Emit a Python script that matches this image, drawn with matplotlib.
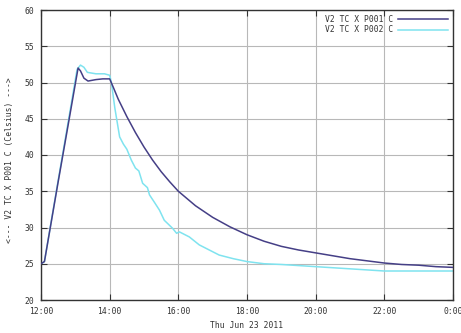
import matplotlib
matplotlib.use("Agg")
import matplotlib.pyplot as plt

# hours since 12:00 on Thu Jun 23 2011
t_p001 = [0.00, 0.10, 0.50, 0.80, 1.08, 1.15, 1.25, 1.37, 1.60, 1.80, 2.00, 2.10,
          2.25, 2.50, 2.75, 3.00, 3.25, 3.50, 3.75, 4.00, 4.25, 4.50, 5.00, 5.50,
          6.00, 6.50, 7.00, 7.50, 8.00, 8.50, 9.00, 9.50, 10.00, 10.50, 11.00,
          11.50, 12.00]
v_p001 = [25.0, 25.3, 36.3, 44.4, 52.0, 51.6, 50.6, 50.2, 50.4, 50.5, 50.5, 49.4,
          47.7, 45.3, 43.1, 41.1, 39.3, 37.7, 36.3, 35.0, 34.0, 33.0, 31.4, 30.1,
          29.0, 28.1, 27.4, 26.9, 26.5, 26.1, 25.7, 25.4, 25.1, 24.9, 24.8,
          24.6, 24.5]

t_p002 = [0.00, 0.10, 0.50, 0.80, 1.05, 1.15, 1.25, 1.35, 1.60, 1.85, 2.00, 2.05,
          2.15, 2.29, 2.40, 2.50, 2.63, 2.75, 2.85, 2.96, 3.10, 3.16, 3.30, 3.45,
          3.59, 3.83, 3.95, 4.03, 4.32, 4.61, 5.19, 5.60, 6.00, 6.50, 7.00, 8.00,
          9.00, 10.00, 11.00, 12.00]
v_p002 = [25.0, 25.3, 36.5, 44.8, 51.8, 52.4, 52.1, 51.4, 51.2, 51.2, 51.0, 50.0,
          46.5, 42.5, 41.5, 40.8, 39.3, 38.2, 37.8, 36.1, 35.5, 34.5, 33.5, 32.4,
          31.0, 29.9, 29.2, 29.4, 28.7, 27.6, 26.2, 25.7, 25.3, 25.0, 24.9, 24.6,
          24.3, 24.0, 24.0, 24.0]

x_ticks = [0, 2, 4, 6, 8, 10, 12]
x_labels = ["12:00", "14:00", "16:00", "18:00", "20:00", "22:00", "0:00"]
y_ticks = [20, 25, 30, 35, 40, 45, 50, 55, 60]

fs = 5.8
plt.rcParams['font.family'] = ['DejaVu Sans Mono']

fig = plt.figure(figsize=(4.61, 3.33), dpi=100)
ax = fig.add_axes([41/461, 1-300/333, 412/461, 290/333])

ax.plot(t_p001, v_p001, color="#453f86", lw=1.1, label="V2 TC X P001 C", zorder=3)
ax.plot(t_p002, v_p002, color="#7fe3ef", lw=1.1, label="V2 TC X P002 C", zorder=2)

ax.set_xlim(0, 12)
ax.set_ylim(20, 60)
ax.set_xticks(x_ticks)
ax.set_xticklabels(x_labels)
ax.set_yticks(y_ticks)
ax.tick_params(direction="in", top=True, right=True, labelsize=fs, length=4,
               width=0.8, colors="#333333", pad=5)
ax.grid(True, color="#b8b8b8", lw=0.8)
ax.set_axisbelow(True)
for s in ax.spines.values():
    s.set_color("#333333")
    s.set_linewidth(1.0)

ax.set_xlabel("Thu Jun 23 2011", fontsize=fs, color="#333333", labelpad=4)
fig.text(10/461, 1-160/333, "<--- V2 TC X P001 C (Celsius) --->", rotation=90,
         fontsize=fs, color="#333333", ha="center", va="center")

leg = ax.legend(loc="upper right", frameon=False, markerfirst=False, fontsize=fs,
                handlelength=6.2, handletextpad=0.6, labelspacing=0.15,
                borderaxespad=0.25)
for txt in leg.get_texts():
    txt.set_color("#333333")

fig.savefig("out.png", dpi=100)
